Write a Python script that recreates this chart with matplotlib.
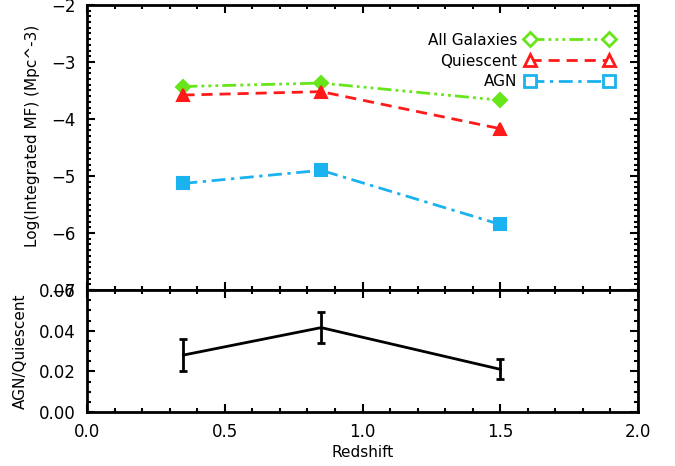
import matplotlib
matplotlib.use("Agg")
import matplotlib.pyplot as plt
from matplotlib.ticker import MultipleLocator, FuncFormatter, FormatStrFormatter
from matplotlib.lines import Line2D

plt.rcParams['font.family'] = ['DejaVu Sans']

redshift = [0.35, 0.85, 1.5]
all_galaxies = [-3.43, -3.37, -3.67]
quiescent = [-3.58, -3.52, -4.17]
agn = [-5.13, -4.90, -5.85]
ratio = [0.028, 0.0415, 0.021]
ratio_err = [0.008, 0.0075, 0.005]
labels = ['All Galaxies', 'Quiescent', 'AGN']

green = '#66e61a'
red = '#ff1a1a'
blue = '#1ab2ef'
ls_green = (0, (5, 1.5, 1, 1.5, 1, 1.5, 1, 1.5))
ls_red = (0, (4, 2.5))
ls_blue = (0, (5, 2, 1.2, 2))

fig = plt.figure(figsize=(6.75, 4.66), dpi=100)
ax1 = fig.add_axes([87/675, 1-290/466, (638-87)/675, 285/466])
ax2 = fig.add_axes([87/675, 1-412/466, (638-87)/675, 122/466])

lw = 2.0
ax1.plot(redshift, all_galaxies, color=green, lw=lw, ls=ls_green,
         marker='D', ms=7, mfc=green, mec=green, mew=1.5)
ax1.plot(redshift, quiescent, color=red, lw=lw, ls=ls_red,
         marker='^', ms=9, mfc=red, mec=red, mew=1.5)
ax1.plot(redshift, agn, color=blue, lw=lw, ls=ls_blue,
         marker='s', ms=8, mfc=blue, mec=blue, mew=1.5)

handles = [
    Line2D([], [], color=green, lw=lw, ls=ls_green, marker='D', ms=7, mfc='white', mec=green, mew=2),
    Line2D([], [], color=red, lw=lw, ls=ls_red, marker='^', ms=9, mfc='white', mec=red, mew=2),
    Line2D([], [], color=blue, lw=lw, ls=ls_blue, marker='s', ms=8, mfc='white', mec=blue, mew=2),
]
ax1.legend(handles, labels, loc='upper right',
           bbox_to_anchor=(0.975, 0.94), frameon=False, markerfirst=False,
           numpoints=2, handlelength=5.8, fontsize=11, labelspacing=0.38,
           handletextpad=0.5, borderpad=0.2)

ax1.set_xlim(0, 2)
ax1.set_ylim(-7, -2)
ax1.set_ylabel('Log(Integrated MF) (Mpc^-3)', fontsize=11)
ax1.yaxis.set_label_coords(-0.086, 0.54)
ax1.tick_params(labelbottom=False)
ax1.yaxis.set_major_locator(MultipleLocator(1))
ax1.yaxis.set_minor_locator(MultipleLocator(0.1))
ax1.yaxis.set_major_formatter(FuncFormatter(lambda v, p: f'{v:.0f}'.replace('-', '\u2212')))

ax2.errorbar(redshift, ratio, yerr=ratio_err, color='black', lw=2, elinewidth=2,
             capsize=3, capthick=2)
ax2.set_xlim(0, 2)
ax2.set_ylim(0, 0.06)
ax2.set_xlabel('Redshift', fontsize=11, labelpad=3)
ax2.set_ylabel('AGN/Quiescent', fontsize=11)
ax2.yaxis.set_label_coords(-0.108, 0.5)
ax2.yaxis.set_major_locator(MultipleLocator(0.02))
ax2.yaxis.set_minor_locator(MultipleLocator(0.005))
ax2.yaxis.set_major_formatter(FormatStrFormatter('%.2f'))
ax2.xaxis.set_major_formatter(FormatStrFormatter('%.1f'))

for ax in (ax1, ax2):
    ax.xaxis.set_major_locator(MultipleLocator(0.5))
    ax.xaxis.set_minor_locator(MultipleLocator(0.1))
    ax.tick_params(which='both', direction='in', top=True, right=True, width=1.5,
                   labelsize=12, pad=8)
    ax.tick_params(which='major', length=6)
    ax.tick_params(which='minor', length=3)
    for s in ax.spines.values():
        s.set_linewidth(2)

fig.savefig('out.png', dpi=100)
